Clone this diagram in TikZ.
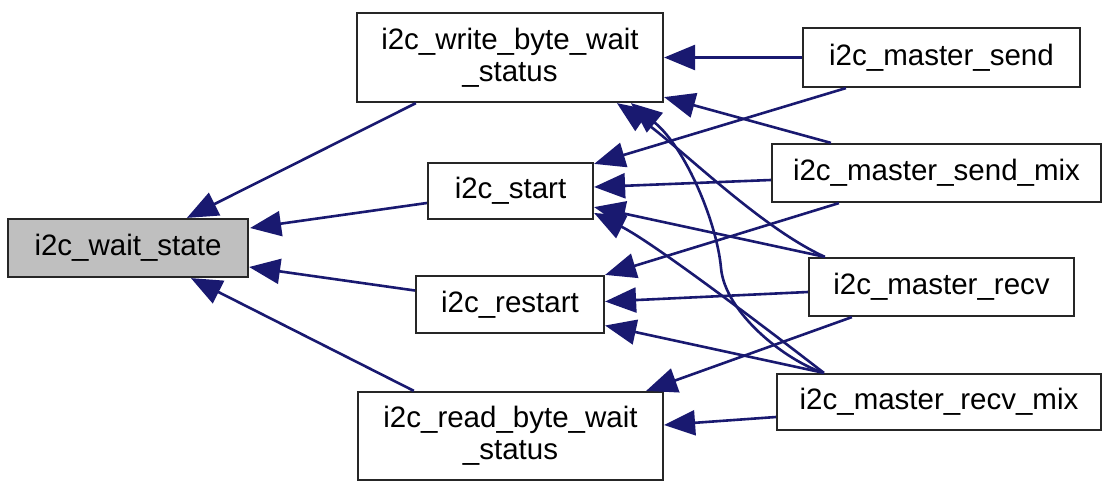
\documentclass[tikz,border=0pt]{standalone}
\usepackage{fontspec}
\setmainfont{Liberation Sans}
\usetikzlibrary{arrows.meta,calc}
\definecolor{edgeblue}{HTML}{191970}
\definecolor{boxgray}{HTML}{BFBFBF}
\begin{document}
\begin{tikzpicture}[x=1pt,y=-1pt,
  fn/.style={draw=black!85, line width=2.2pt, fill=white, inner sep=0pt,
    align=center, font=\fontsize{29.5}{32}\selectfont},
  edge/.style={draw=edgeblue, line width=2.6pt,
    -{Triangle[length=31pt,width=25pt]}}]
\useasboundingbox (0,0) rectangle (1105,482);

% callee nodes
\node[fn, fill=boxgray, minimum width=240pt, minimum height=58pt] (ws) at (128,248) {i2c\_wait\_state};
\node[fn, minimum width=306pt, minimum height=89pt] (wb) at (510,57.5) {i2c\_write\_byte\_wait\\\_status};
\node[fn, minimum width=165pt, minimum height=56pt] (st) at (510.5,191) {i2c\_start};
\node[fn, minimum width=188pt, minimum height=57pt] (rs) at (510,304.5) {i2c\_restart};
\node[fn, minimum width=305pt, minimum height=88pt] (rb) at (510.5,436) {i2c\_read\_byte\_wait\\\_status};

% caller nodes
\node[fn, minimum width=277pt, minimum height=59pt] (ms) at (941.5,57.5) {i2c\_master\_send};
\node[fn, minimum width=329pt, minimum height=58pt] (msm) at (936.5,173) {i2c\_master\_send\_mix};
\node[fn, minimum width=265pt, minimum height=58pt] (mr) at (941.5,287) {i2c\_master\_recv};
\node[fn, minimum width=324pt, minimum height=56pt] (mrm) at (939,402) {i2c\_master\_recv\_mix};

\coordinate (bendB) at (721,268);

% calls into i2c_wait_state
\draw[edge] ($(wb.south west)+(60,0)$) -- ($(ws.north west)+(180,0)$);
\draw[edge] ($(st.west)+(0,12)$) -- ($(ws.east)+(1,-20)$);
\draw[edge] ($(rs.west)+(0,-14)$) -- ($(ws.east)+(0,19)$);
\draw[edge] ($(rb.north west)+(57,0)$) -- ($(ws.south west)+(184,0)$);

% calls into i2c_write_byte_wait_status
\draw[edge] (ms.west) -- (wb.east);
\draw[edge] ($(msm.north west)+(60,0)$) -- ($(wb.south east)+(0,-6)$);
\draw[edge] ($(mr.north west)+(17,0)$) .. controls +(-66,-30) and +(60,41) .. ($(wb.south west)+(261,0)$);
\draw[edge] ($(mrm.north west)+(48,0)$) .. controls +(-38,-12) and +(4,45) .. (bendB)
  .. controls +(-4,-45) and +(55,45) .. ($(wb.south west)+(275,0)$);

% calls into i2c_start
\draw[edge] ($(ms.south west)+(44,0)$) -- ($(st.north east)+(0,2)$);
\draw[edge] ($(msm.west)+(0,7)$) -- ($(st.east)+(0,-4)$);
\draw[edge] ($(mr.north west)+(17,0)$) -- ($(st.south east)+(0,-13)$);
\draw[edge] ($(mrm.north west)+(48,0)$) .. controls +(-49,-38) and +(60,30) .. ($(st.east)+(0,22)$);

% calls into i2c_restart
\draw[edge] ($(msm.south west)+(68,0)$) -- (rs.north east);
\draw[edge] ($(mr.west)+(0,5)$) -- ($(rs.east)+(0,-3)$);
\draw[edge] ($(mrm.north west)+(48,0)$) -- ($(rs.east)+(0,21)$);

% calls into i2c_read_byte_wait_status
\draw[edge] ($(mr.south west)+(44,0)$) -- ($(rb.north east)+(-18,0)$);
\draw[edge] ($(mrm.west)+(0,15)$) -- ($(rb.east)+(0,-11)$);
\end{tikzpicture}
\end{document}
